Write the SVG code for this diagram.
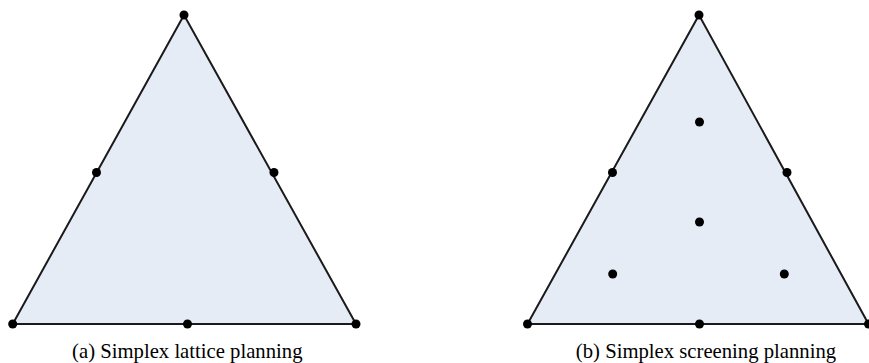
<svg xmlns="http://www.w3.org/2000/svg" width="869" height="363" viewBox="0 0 869 363">
<style>
.tri{fill:#E5ECF6;stroke:#1a1a1a;stroke-width:2;stroke-linejoin:miter}
.pt{fill:#000}
.cap{font-family:"Liberation Serif","Times New Roman",serif;font-size:20.7px;fill:#000;text-anchor:middle}
</style>
<rect width="869" height="363" fill="#fff"/>
<g id="simplex-lattice">
<polygon class="tri" points="184,15 12.7,324 356,324"/>
<circle class="pt" cx="184" cy="15" r="4.5"/>
<circle class="pt" cx="12.7" cy="324" r="4.5"/>
<circle class="pt" cx="356" cy="324" r="4.5"/>
<circle class="pt" cx="96.5" cy="172.5" r="4.5"/>
<circle class="pt" cx="274" cy="172.5" r="4.5"/>
<circle class="pt" cx="187.5" cy="324" r="4.5"/>
<text class="cap" x="187.3" y="358">(a) Simplex lattice planning</text>
</g>
<g id="simplex-screening">
<polygon class="tri" points="699,15 527.5,324 868.5,324"/>
<circle class="pt" cx="699" cy="15" r="4.5"/>
<circle class="pt" cx="527.5" cy="324" r="4.5"/>
<circle class="pt" cx="868.5" cy="324" r="4.5"/>
<circle class="pt" cx="612.5" cy="172.5" r="4.5"/>
<circle class="pt" cx="787" cy="172.5" r="4.5"/>
<circle class="pt" cx="699.5" cy="324" r="4.5"/>
<circle class="pt" cx="699.5" cy="122" r="4.5"/>
<circle class="pt" cx="699.5" cy="222" r="4.5"/>
<circle class="pt" cx="612.7" cy="274" r="4.5"/>
<circle class="pt" cx="784.3" cy="274" r="4.5"/>
<text class="cap" x="706" y="358">(b) Simplex screening planning</text>
</g>
<g id="connectors"/>
</svg>
